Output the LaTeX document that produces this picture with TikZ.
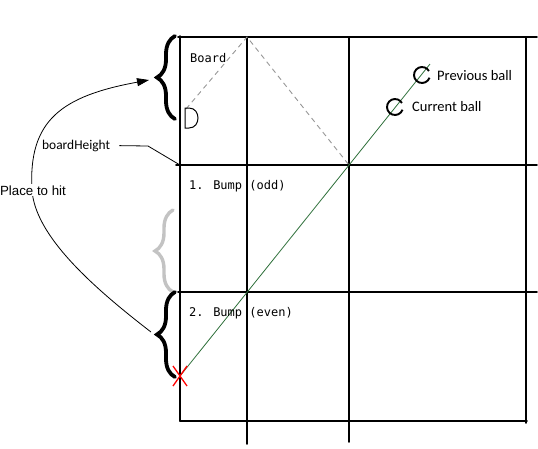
\documentclass[tikz,border=0pt]{standalone}
\usepackage{fontspec}
\setmainfont{Liberation Sans}
\newfontfamily\calibfont{Carlito}
\newfontfamily\codefont{DejaVu Sans Mono}
\usetikzlibrary{decorations.pathreplacing,arrows.meta}
\definecolor{lineGreen}{RGB}{46,112,58}
\definecolor{dashGray}{RGB}{150,150,150}
\definecolor{braceGray}{RGB}{195,195,195}
\begin{document}
\begin{tikzpicture}[x=1pt,y=-1pt,
  gridline/.style={line width=1.8pt, black, line cap=round},
  bracestyle/.style={decorate, decoration={brace, amplitude=18pt}, line width=3.8pt, line cap=round},
  monolabel/.style={font=\codefont\fontsize{12}{14}\selectfont, anchor=base west, inner sep=0pt},
  balllabel/.style={font=\calibfont\fontsize{14.5}{17}\selectfont, anchor=base west, inner sep=0pt},
  ballstyle/.style={line width=1.9pt, black},
  thinline/.style={line width=0.8pt, black},
  guide/.style={dashGray, line width=0.9pt, dash pattern=on 5pt off 4pt},
]
\useasboundingbox (0,0) rectangle (538,448);

% grid
\draw[gridline] (178,37) -- (537,37);
\draw[gridline] (176,165) -- (537,165);
\draw[gridline] (178,292) -- (537,292);
\draw[gridline] (180,421) -- (527,421);
\draw[gridline] (180,36) -- (180,421);
\draw[gridline] (247,37) -- (247,444);
\draw[gridline] (349,37) -- (349,442);
\draw[gridline] (526,37) -- (526,423);

% coordinates
\coordinate (dTop) at (186,109);
\coordinate (apex) at (247,37);
\coordinate (midCross) at (349,165);
\coordinate (hitPoint) at (180,376);
\coordinate (lineEnd) at (430,64);
\coordinate (prevBall) at (422,75);
\coordinate (curBall) at (395,107);
\coordinate (gridCorner) at (180,165);
\coordinate (bhKnee) at (148,146);
\coordinate (hitTip) at (151,332);
\coordinate (boardTip) at (149,80);

% dashed reflection path
\draw[guide] (dTop) -- (apex) -- (midCross);

% D shape
\draw[line width=1pt] (185,108) -- (189,108) .. controls (201,108) and (201,128) .. (189,128) -- (185,128) -- cycle;

% green trajectory
\draw[lineGreen, line width=0.8pt] (hitPoint) -- (lineEnd);

% balls
\draw[ballstyle] ([shift={(20:8)}]prevBall) arc[start angle=20, end angle=330, radius=8];
\draw[ballstyle] ([shift={(20:8)}]curBall) arc[start angle=20, end angle=330, radius=8];

% red X
\draw[red, line width=1.3pt] ([shift={(-7,-10)}]hitPoint) -- ([shift={(7,10)}]hitPoint);
\draw[red, line width=1.3pt] ([shift={(-7,10)}]hitPoint) -- ([shift={(7,-10)}]hitPoint);

% braces
\draw[bracestyle] (175,119) -- (175,36);
\draw[bracestyle, braceGray, line width=3.4pt] (173,292) -- (173,210);
\draw[bracestyle] (175,377) -- (175,292);

% texts
\node[monolabel] (boardText) at (190,62) {Board};
\node[monolabel] (bumpOne) at (189,189.5) {1. Bump (odd)};
\node[monolabel] (bumpTwo) at (189,316.5) {2. Bump (even)};
\node[balllabel] (prevText) at (437,80) {Previous ball};
\node[balllabel] (curText) at (412,111.5) {Current ball};
\node[font=\calibfont\fontsize{13.4}{16}\selectfont, anchor=base west, inner sep=0pt] (bhText) at (42,149) {boardHeight};

% boardHeight leader
\draw[thinline, shorten <=9pt] (bhText.east) -- (bhKnee) -- (gridCorner);

% place to hit curve
\draw[thinline, -{Triangle[length=12pt,width=8pt]}] (hitTip) .. controls (90,285) and (35,235) .. (32,190) .. controls (28,120) and (62,96) .. (boardTip);
\node[fill=white, inner sep=1pt, anchor=base, font=\fontsize{13.3}{16}\selectfont] (hitText) at (33,195) {Place to hit};
\end{tikzpicture}
\end{document}
